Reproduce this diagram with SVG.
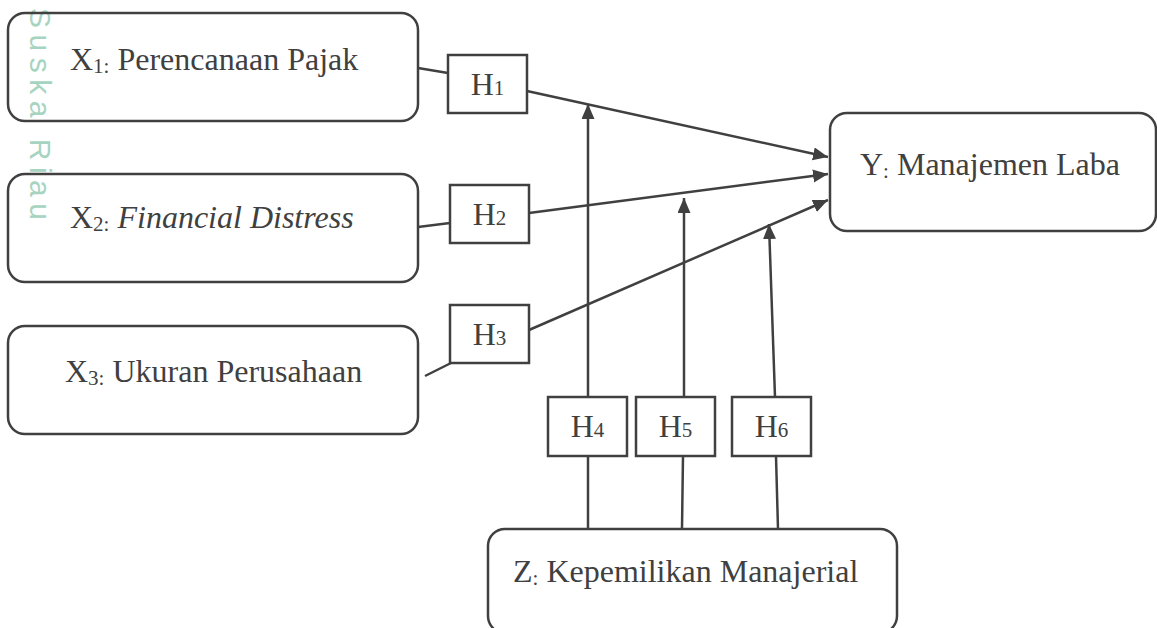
<svg xmlns="http://www.w3.org/2000/svg" width="1157" height="628" viewBox="0 0 1157 628">
<defs>
<marker id="arrow" markerUnits="userSpaceOnUse" markerWidth="16" markerHeight="14" refX="15" refY="6.5" orient="auto"><path d="M0,0 L15,6.5 L0,13 z" fill="#404040"/></marker>
</defs>
<style>
.box{fill:none;stroke:#404040;stroke-width:2.5}
.lbl{font-family:"Liberation Serif","Times New Roman",serif;font-size:32px;fill:#404040}
.sub{font-size:21px}
.conn line{stroke:#404040;stroke-width:2.5;fill:none}
.arr{marker-end:url(#arrow)}
.wm{font-family:"Liberation Sans",Arial,sans-serif;font-size:30px;fill:#a6d4c0}
</style>
<rect width="1157" height="628" fill="#ffffff"/>
<text class="wm" transform="translate(30,8) rotate(90)" x="0" y="0" textLength="212" lengthAdjust="spacing">Suska Riau</text>

<g id="connectors" class="conn">
<line x1="418" y1="68" x2="448" y2="73"/>
<line class="arr" x1="527" y1="91" x2="828" y2="157"/>
<line x1="418" y1="227" x2="450" y2="223"/>
<line class="arr" x1="529" y1="213" x2="828" y2="174"/>
<line x1="425" y1="376" x2="451" y2="363"/>
<line class="arr" x1="529" y1="330" x2="828" y2="200"/>
<line x1="588" y1="529" x2="588" y2="456"/>
<line class="arr" x1="588" y1="397" x2="588" y2="104"/>
<line x1="682" y1="529" x2="683" y2="456"/>
<line class="arr" x1="684" y1="397" x2="684" y2="198"/>
<line x1="778" y1="529" x2="776" y2="456"/>
<line class="arr" x1="775" y1="397" x2="769" y2="224"/>
</g>

<g id="X1">
<rect class="box" x="8" y="13" width="410" height="108" rx="17"/>
<text class="lbl" x="70" y="70">X<tspan class="sub" dy="3">1:</tspan><tspan dy="-3"> Perencanaan Pajak</tspan></text>
</g>
<g id="X2">
<rect class="box" x="8" y="174" width="410" height="108" rx="17"/>
<text class="lbl" x="70" y="228">X<tspan class="sub" dy="3">2:</tspan><tspan dy="-3" font-style="italic"> Financial Distress</tspan></text>
</g>
<g id="X3">
<rect class="box" x="8" y="326" width="410" height="108" rx="17"/>
<text class="lbl" x="65" y="382">X<tspan class="sub" dy="3">3:</tspan><tspan dy="-3"> Ukuran Perusahaan</tspan></text>
</g>
<g id="Y">
<rect class="box" x="830" y="113" width="326" height="118" rx="17"/>
<text class="lbl" x="860" y="175">Y<tspan class="sub" dy="3">:</tspan><tspan dy="-3"> Manajemen Laba</tspan></text>
</g>
<g id="Z">
<rect class="box" x="488" y="529" width="409" height="104" rx="17"/>
<text class="lbl" x="513" y="582">Z<tspan class="sub" dy="3">:</tspan><tspan dy="-3"> Kepemilikan Manajerial</tspan></text>
</g>

<g id="H1">
<rect class="box" x="448" y="55" width="79" height="58"/>
<text class="lbl" x="487.5" y="95" text-anchor="middle">H<tspan class="sub">1</tspan></text>
</g>
<g id="H2">
<rect class="box" x="450" y="185" width="79" height="58"/>
<text class="lbl" x="489.5" y="225" text-anchor="middle">H<tspan class="sub">2</tspan></text>
</g>
<g id="H3">
<rect class="box" x="450" y="305" width="79" height="58"/>
<text class="lbl" x="489.5" y="345" text-anchor="middle">H<tspan class="sub">3</tspan></text>
</g>
<g id="H4">
<rect class="box" x="548" y="397" width="79" height="59"/>
<text class="lbl" x="587.5" y="437" text-anchor="middle">H<tspan class="sub">4</tspan></text>
</g>
<g id="H5">
<rect class="box" x="636" y="397" width="79" height="59"/>
<text class="lbl" x="675.5" y="437" text-anchor="middle">H<tspan class="sub">5</tspan></text>
</g>
<g id="H6">
<rect class="box" x="732" y="397" width="79" height="59"/>
<text class="lbl" x="771.5" y="437" text-anchor="middle">H<tspan class="sub">6</tspan></text>
</g>
</svg>
